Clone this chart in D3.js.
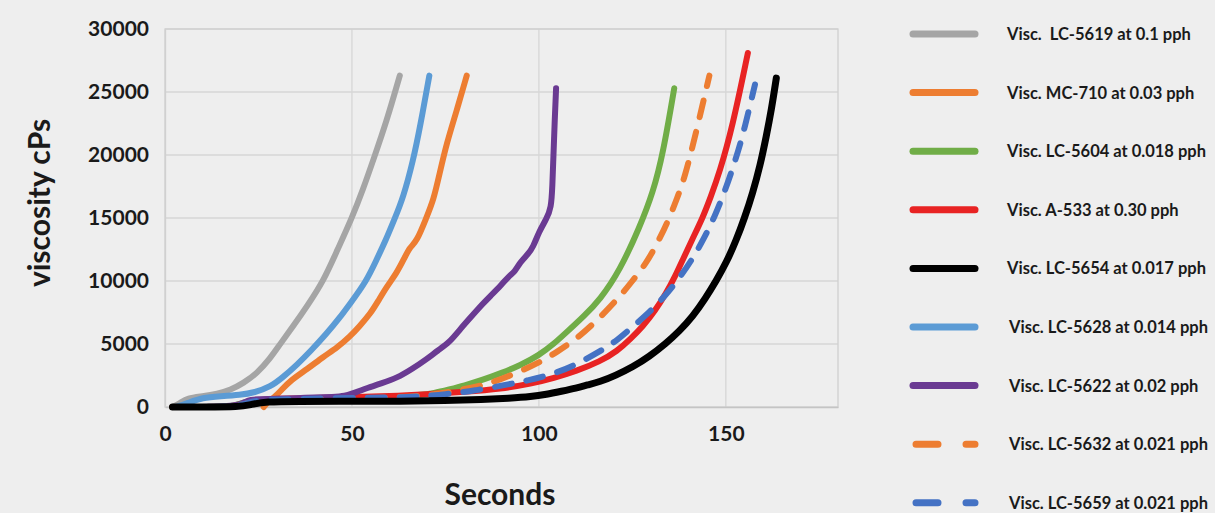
<!DOCTYPE html>
<html>
<head>
<meta charset="utf-8">
<script src="https://cdn.jsdelivr.net/npm/d3@7"></script>
<style>
  body { margin: 0; background: #eeeeee; }
  svg text { font-family: Lato, "Open Sans", sans-serif; font-weight: bold; fill: #1a1a1a; }
</style>
</head>
<body>
<div id="vis-container"></div>
<script>
// series values, [seconds, viscosity cPs]
const lc5619 = [[2,0],[4,300],[6,700],[10,850],[14,1050],[17.5,1350],[21,1900],[24.6,2670],[28,3800],[30.8,5000],[34.5,6500],[38,8000],[42.4,10000],[46,12400],[50,15000],[53,17300],[55.7,19600],[59.3,22700],[62.8,26300]];
const mc710 = [[26.4,0],[27.5,400],[29,700],[31,1300],[33.5,2100],[38,3000],[42.4,4000],[46,4700],[49.5,5600],[52,6400],[54.9,7400],[57,8400],[59.3,9550],[61.9,10600],[64,11800],[65.5,12700],[67.3,13100],[70,15100],[71.8,16400],[73.5,18600],[75.3,20900],[78,23500],[80.7,26300]];
const lc5604 = [[2,0],[10,0],[18,0],[21,400],[25,550],[35,600],[45,650],[55,700],[62,800],[68,950],[72,1100],[76,1400],[80,1700],[85,2150],[90,2700],[95,3300],[100,4100],[104,5000],[108,6100],[112,7200],[116.3,8500],[121.6,10800],[127,14300],[130.5,17000],[133.2,20100],[136.2,25300]];
const a533 = [[2,0],[10,0],[19,0],[23,500],[28,650],[40,700],[50,800],[60,850],[70,1000],[80,1200],[90,1450],[98,1850],[104,2300],[110,2850],[116.3,3600],[121,4450],[124.5,5400],[127.8,6400],[131,7600],[134,9000],[136.5,10400],[138.5,11700],[141,13300],[143.8,15000],[146,16700],[148.3,18600],[151.8,22250],[155.9,28100]];
const lc5654 = [[2,0],[10,0],[20,0],[23,200],[27,420],[35,450],[50,450],[63,450],[75,500],[85,600],[92,700],[98,820],[102,1000],[106,1250],[110,1500],[113,1750],[116.3,2000],[120.5,2500],[125.2,3200],[129.5,4000],[134,5050],[137.5,6000],[141.2,7200],[144.5,8600],[147.4,10000],[150.2,11500],[152.8,13250],[155,15000],[157.2,17000],[159.2,19200],[160.8,21450],[162.2,23600],[163.5,26100]];
const lc5628 = [[3,0],[6,300],[10,750],[15,850],[20,950],[24,1150],[28.2,1600],[31.5,2350],[35.3,3350],[39,4450],[43.3,5850],[46.5,7000],[49.5,8200],[53.9,10000],[56.6,11700],[59,13200],[61.5,15000],[63.7,16600],[66.4,19600],[68.2,22200],[70.7,26300]];
const lc5622 = [[3,0],[20,0],[22,600],[25,600],[30,650],[35,700],[40,750],[45,800],[48,850],[51,1150],[54,1500],[58,1900],[62,2300],[66,3000],[70,3800],[73,4500],[76,5100],[79,6200],[82,7200],[85,8200],[87,8800],[90,9700],[92,10400],[93.5,10700],[95,11500],[97,12100],[98.5,12700],[100,13900],[102,14900],[103.3,15800],[103.6,17500],[103.9,20000],[104.2,22500],[104.6,25300]];
const lc5632 = [[3,0],[20,0],[23,500],[40,600],[55,700],[65,800],[72,1000],[78,1300],[84,1650],[88,2000],[94,2700],[100,3500],[105,4400],[110,5400],[115,6700],[121.2,8600],[125,10000],[128.7,11400],[131.5,12900],[134.5,14700],[137,16600],[139,18200],[142.1,21850],[145.6,26300]];
const lc5659 = [[3,0],[20,0],[23,500],[30,600],[45,700],[60,750],[67,820],[75,1000],[83,1300],[91,1750],[97,2100],[103,2550],[109,3200],[116.3,4400],[121,5300],[125.2,6400],[129.5,7500],[133.6,8750],[137.5,10200],[141.2,11800],[144.2,13400],[147,15100],[149.3,16800],[151.4,18550],[153.3,20300],[155,22100],[157.8,25600]];

const seriesNames = ["Visc.  LC-5619 at 0.1 pph", "Visc. MC-710 at 0.03 pph", "Visc. LC-5604 at 0.018 pph",
  "Visc. A-533 at 0.30 pph", "Visc. LC-5654 at 0.017 pph", "Visc. LC-5628 at 0.014 pph",
  "Visc. LC-5622 at 0.02 pph", "Visc. LC-5632 at 0.021 pph", "Visc. LC-5659 at 0.021 pph"];
const seriesData = [lc5619, mc710, lc5604, a533, lc5654, lc5628, lc5622, lc5632, lc5659];
const colors = ["#a5a5a5", "#ed7d31", "#70ad47", "#e82323", "#000000", "#5b9bd5", "#6a3a92", "#ed7d31", "#4472c4"];
const dashed = [false, false, false, false, false, false, false, true, true];

const xTicks = [0, 50, 100, 150];
const yTicks = [0, 5000, 10000, 15000, 20000, 25000, 30000];

// setting parameters
const margin = { top: 29, right: 377, bottom: 106, left: 165 };
const width = 1215 - margin.left - margin.right;
const height = 513 - margin.top - margin.bottom;

const svg = d3.select("#vis-container")
  .append("svg")
    .attr("width", 1215)
    .attr("height", 513)
  .append("g")
    .attr("transform", `translate(${margin.left}, ${margin.top})`);

const x = d3.scaleLinear().domain([0, 180]).range([0, width]);
const y = d3.scaleLinear().domain([0, 30000]).range([height, 0]);

// gridlines
svg.append("g")
  .selectAll("line.h")
  .data(yTicks.slice(1))
  .enter().append("line")
    .attr("x1", 0).attr("x2", width)
    .attr("y1", d => y(d)).attr("y2", d => y(d))
    .attr("stroke", "#d6d6d6").attr("stroke-width", 1.3);

svg.append("g")
  .selectAll("line.v")
  .data(xTicks.slice(1))
  .enter().append("line")
    .attr("y1", 0).attr("y2", height)
    .attr("x1", d => x(d)).attr("x2", d => x(d))
    .attr("stroke", "#d6d6d6").attr("stroke-width", 1.3);

// plot border
svg.append("rect")
  .attr("width", width).attr("height", height)
  .attr("fill", "none").attr("stroke", "#d0d0d0").attr("stroke-width", 1.3);

// axes
const xAxis = svg.append("g")
  .attr("transform", `translate(0, ${height})`)
  .call(d3.axisBottom(x).tickValues(xTicks).tickSize(0).tickPadding(19));
xAxis.select(".domain").attr("stroke", "#c4c4c4").attr("stroke-width", 1.5);
xAxis.selectAll("text").style("font-size", "21px");

const yAxis = svg.append("g")
  .call(d3.axisLeft(y).tickValues(yTicks).tickSize(0).tickPadding(16).tickFormat(d3.format("d")));
yAxis.select(".domain").attr("stroke", "#d0d0d0").attr("stroke-width", 1.3);
yAxis.selectAll("text").style("font-size", "21px");

// axis titles
svg.append("text")
  .attr("x", 500 - margin.left).attr("y", 505 - margin.top)
  .attr("text-anchor", "middle")
  .style("font-size", "30px")
  .text("Seconds");

svg.append("text")
  .attr("transform", `translate(${50 - margin.left}, ${203 - margin.top}) rotate(-90)`)
  .attr("text-anchor", "middle")
  .style("font-size", "30px")
  .text("viscosity cPs");

// lines (basis curve smooths the hand-read points)
const line = d3.line()
  .x(d => x(d[0]))
  .y(d => y(d[1]))
  .curve(d3.curveBasis);

const drawOrder = [0, 1, 2, 3, 5, 6, 7, 8, 4];
svg.append("g")
  .selectAll("path")
  .data(drawOrder)
  .enter().append("path")
    .attr("d", i => line(seriesData[i]))
    .attr("fill", "none")
    .attr("stroke", i => colors[i])
    .attr("stroke-width", i => i === 4 ? 7 : 6)
    .attr("stroke-linecap", "round")
    .attr("stroke-linejoin", "round")
    .attr("stroke-dasharray", i => dashed[i] ? "17,15" : null);

// legend
const legend = svg.append("g")
  .attr("transform", `translate(${911 - margin.left}, ${34 - margin.top})`);

const item = legend.selectAll("g")
  .data(seriesNames)
  .enter().append("g")
    .attr("transform", (d, i) => `translate(0, ${i * 58.6})`);

item.append("line")
  .attr("x1", (d, i) => dashed[i] ? 5 : 2)
  .attr("x2", 64)
  .attr("stroke", (d, i) => colors[i])
  .attr("stroke-width", 7)
  .attr("stroke-linecap", "round")
  .attr("stroke-dasharray", (d, i) => dashed[i] ? "22,28" : null);

item.append("text")
  .attr("x", (d, i) => i >= 5 ? 98 : 96)
  .attr("y", 6)
  .style("font-size", "16.5px")
  .style("white-space", "pre")
  .text(d => d);
</script>
</body>
</html>
